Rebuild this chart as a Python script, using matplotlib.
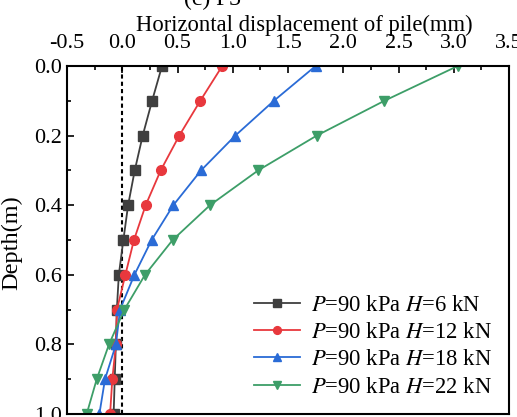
import numpy as np
import matplotlib.pyplot as plt
from matplotlib.ticker import MultipleLocator

plt.rcParams['font.family'] = 'Liberation Serif'
plt.rcParams['mathtext.fontset'] = 'stix'

# depth below ground (m) and measured pile displacement (mm)
depth = [0.0, 0.1, 0.2, 0.3, 0.4, 0.5, 0.6, 0.7, 0.8, 0.9, 1.0]
disp_h6 = [0.36, 0.27, 0.185, 0.113, 0.053, 0.01, -0.031, -0.049, -0.058, -0.068, -0.078]
disp_h12 = [0.905, 0.706, 0.516, 0.348, 0.212, 0.106, 0.028, -0.048, -0.057, -0.09, -0.11]
disp_h18 = [1.75, 1.372, 1.023, 0.713, 0.462, 0.266, 0.11, -0.02, -0.057, -0.156, -0.207]
disp_h22 = [3.036, 2.372, 1.76, 1.23, 0.794, 0.456, 0.206, 0.019, -0.12, -0.231, -0.322]

labels = ['$P$=90 kPa $H$=6 kN', '$P$=90 kPa $H$=12 kN',
          '$P$=90 kPa $H$=18 kN', '$P$=90 kPa $H$=22 kN']
colors = ['#3f3f3f', '#e8383d', '#2a6bd6', '#3d9e68']
markers = ['s', 'o', '^', 'v']

fig = plt.figure(figsize=(5.17, 4.17), dpi=100)
ax = fig.add_axes([67/517, 1 - 414/417, 442/517, 348/417])

for d, lab, c, m in zip([disp_h6, disp_h12, disp_h18, disp_h22], labels, colors, markers):
    ax.plot(d, depth, color=c, marker=m, markersize=7, lw=1.3, label=lab)

ax.axvline(0, color='k', ls=(0, (2, 1.5)), lw=1.5, zorder=0)

ax.set_xlim(-0.5, 3.5)
ax.set_ylim(1.0, 0.0)
ax.xaxis.set_major_locator(MultipleLocator(0.5))
ax.xaxis.set_minor_locator(MultipleLocator(0.25))
ax.yaxis.set_major_locator(MultipleLocator(0.2))
ax.yaxis.set_minor_locator(MultipleLocator(0.1))
ax.xaxis.tick_top()
ax.xaxis.set_label_position('top')
ax.tick_params(which='both', direction='in', labelsize=16, top=True, bottom=False, right=False)
ax.tick_params(which='major', length=5, width=1.2)
ax.tick_params(which='minor', length=3, width=1.2)
ax.tick_params(axis='x', which='major', pad=9)
ax.xaxis.set_major_formatter(plt.FuncFormatter(lambda v, p: f'{v:.1f}'))
ax.yaxis.set_major_formatter(plt.FuncFormatter(lambda v, p: f'{v:.1f}'))
for s in ax.spines.values():
    s.set_linewidth(1.5)

ax.set_xlabel('Horizontal displacement of pile(mm)', fontsize=16.3)
ax.xaxis.set_label_coords((304 - 67)/442, 1 + 35/348)
ax.set_ylabel('Depth(m)', fontsize=17.5)
ax.yaxis.set_label_coords((22 - 67)/442, 1 - 177/348)

ax.legend(loc='lower left', frameon=False, fontsize=16.3, handlelength=2.0,
          markerscale=0.8, labelspacing=0.28, handletextpad=0.5,
          bbox_to_anchor=((234 - 67)/442, (414 - 418)/348))

fig.text(212/517, 1 - 5/417, '(c) P3', fontsize=17, ha='center', va='baseline')

fig.savefig('out.png', dpi=100)
